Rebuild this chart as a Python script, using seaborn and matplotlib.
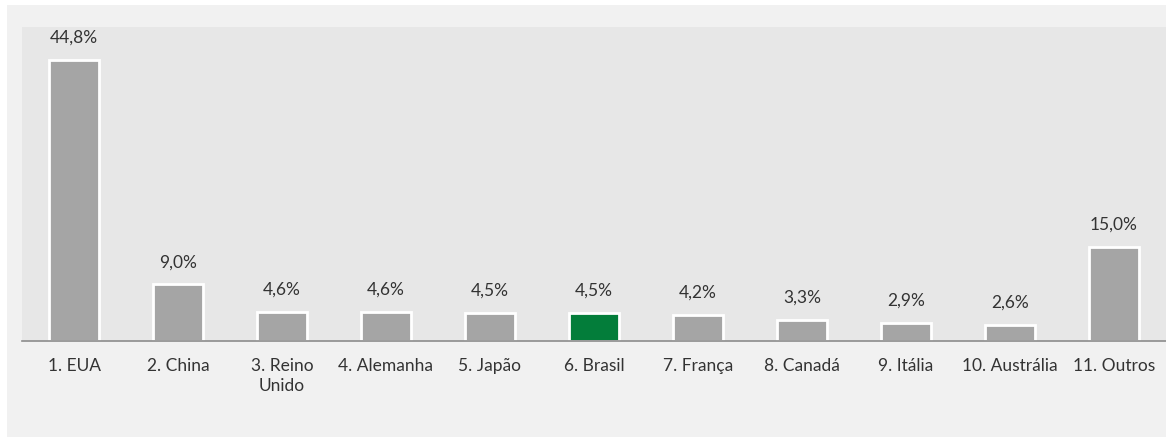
import matplotlib
matplotlib.use("Agg")
import matplotlib.pyplot as plt
from matplotlib.patches import Rectangle
import seaborn as sns

countries = ["1. EUA", "2. China", "3. Reino\nUnido", "4. Alemanha", "5. Japão",
             "6. Brasil", "7. França", "8. Canadá", "9. Itália", "10. Austrália",
             "11. Outros"]
shares = [44.8, 9.0, 4.6, 4.6, 4.5, 4.5, 4.2, 3.3, 2.9, 2.6, 15.0]
highlight = "6. Brasil"

GRAY = "#a5a5a5"
GREEN = "#037d3a"
TEXT = "#333333"

sns.set_style("white")
plt.rcParams["font.family"] = ["Lato", "DejaVu Sans"]

fig = plt.figure(figsize=(11.66, 4.37), dpi=100, facecolor="white")
# light gray chart area (leaves a thin white border top/left)
fig.patches.append(Rectangle((7 / 1166, -0.1), 1.1, 1.1 - 5 / 437, transform=fig.transFigure,
                             facecolor="#f1f1f1", edgecolor="none", zorder=-5))

ax = fig.add_axes([22 / 1166, (437 - 341) / 437, 1 - 22 / 1166, (341 - 27) / 437])
ax.set_zorder(1)
ax.set_facecolor("#e7e7e7")

palette = [GREEN if c == highlight else GRAY for c in countries]
sns.barplot(x=countries, y=shares, hue=countries, palette=palette, legend=False,
            width=0.48, edgecolor="white", linewidth=2, saturation=1, ax=ax)

for i, v in enumerate(shares):
    ax.annotate(f"{v:.1f}%".replace(".", ","), (i, v), xytext=(0, 16),
                textcoords="offset points", ha="center", va="center",
                fontsize=12.5, color=TEXT)

ax.set_xlim(-0.5, len(countries) - 0.5)
ax.set_ylim(0, 50)
ax.set_yticks([])
for s in ["top", "right", "left"]:
    ax.spines[s].set_visible(False)
ax.spines["bottom"].set_color("#8c8c8c")
ax.spines["bottom"].set_linewidth(1.2)

ax.set_xticks([i - 0.5 for i in range(len(countries) + 1)], minor=True)
ax.tick_params(axis="x", which="minor", length=6, width=1.2, color="#8c8c8c", direction="out")
ax.tick_params(axis="x", which="major", length=0, pad=12, labelsize=12.5, labelcolor=TEXT)
for lbl in ax.get_xticklabels():
    lbl.set_linespacing(1.3)
ax.set_xlabel("")
ax.set_ylabel("")

fig.savefig("out.png", dpi=100, facecolor=fig.get_facecolor())
